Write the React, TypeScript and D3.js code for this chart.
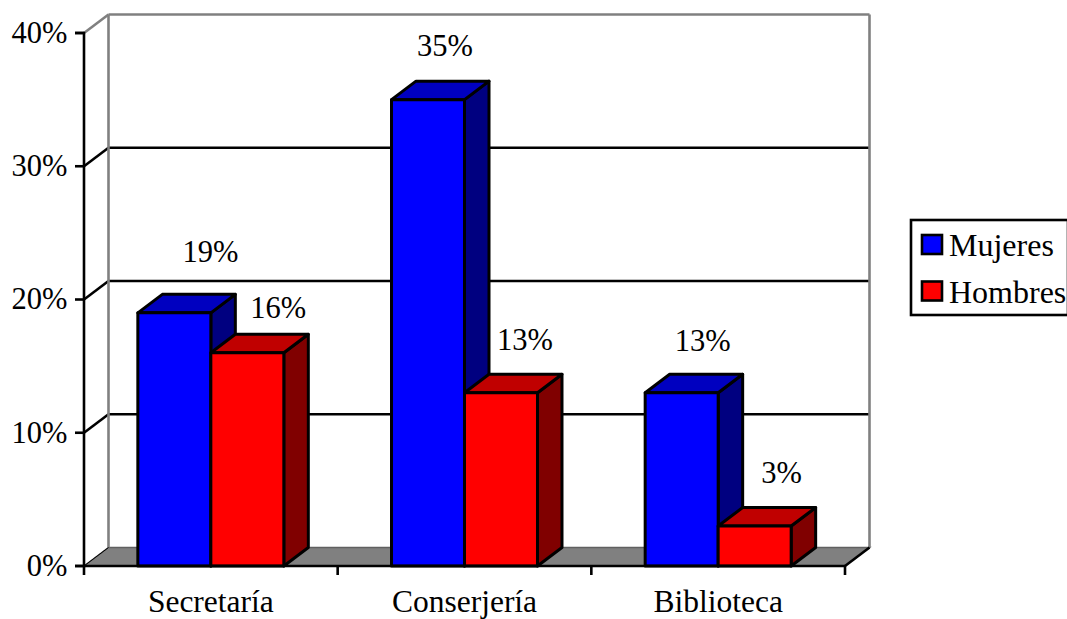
import { useEffect, useRef } from 'react';
import * as d3 from 'd3';

const categories = ['Secretaría', 'Conserjería', 'Biblioteca'];
const seriesNames = ['Mujeres', 'Hombres'];
const mujeres = [19, 35, 13];
const hombres = [16, 13, 3];
const yTicks = [0, 10, 20, 30, 40];

// hand placed data labels in the original, offset from the centre of the bar top
const labelNudge = [
    [[36, -51], [31, -35]],
    [[17, -44], [24, -43]],
    [[21, -42], [27, -43]],
];

const faces: Record<string, { front: string; top: string; side: string }> = {
    Mujeres: { front: '#0000ff', top: '#0000c0', side: '#000080' },
    Hombres: { front: '#ff0000', top: '#c00000', side: '#800000' },
};

export default function App() {
    const svgRef = useRef<SVGSVGElement>(null);

    useEffect(() => {
        if (!svgRef.current) return;
        const svg = d3.select(svgRef.current);
        svg.selectAll('*').remove();

        const font = '"Liberation Serif", serif';
        const fontSize = 30.5;
        const left = 84, right = 845, bottom = 566, top = 33;
        const dx = 24.5, dy = -18.5; // 3d depth
        const lw = 2.6;

        const y = d3.scaleLinear().domain([0, 40]).range([bottom, top]);
        const x0 = d3.scaleBand().domain(categories).range([left, right]).paddingInner(0.4245).paddingOuter(0.21225);
        const x1 = d3.scaleBand().domain(seriesNames).range([0, x0.bandwidth()]);

        const line = (x1_: number, y1: number, x2: number, y2: number, stroke: string) =>
            svg.append('line')
                .attr('x1', x1_).attr('y1', y1).attr('x2', x2).attr('y2', y2)
                .attr('stroke', stroke).attr('stroke-width', lw);

        // Floor
        svg.append('polygon')
            .attr('points', [[left, bottom], [left + dx, bottom + dy], [right + dx, bottom + dy], [right, bottom]].join(' '))
            .attr('fill', '#808080').attr('stroke', '#606060').attr('stroke-width', 1.5);

        // Gridlines on the back wall and the side wall
        for (const t of yTicks.slice(1)) {
            const c = t === 40 ? '#808080' : '#000';
            line(left, y(t), left + dx, y(t) + dy, c);
            line(left + dx, y(t) + dy, right + dx, y(t) + dy, c);
        }
        line(left + dx, y(40) + dy, left + dx, y(0) + dy, '#808080');
        line(right + dx, y(40) + dy, right + dx, y(0) + dy, '#808080');
        line(left, y(0), left + dx, y(0) + dy, '#000').attr('stroke-width', 1);
        line(right, y(0), right + dx, y(0) + dy, '#000');

        // Bars
        categories.forEach((cat, ci) => {
            const vals = [mujeres[ci], hombres[ci]];
            seriesNames.forEach((name, si) => {
                const bx = x0(cat)! + x1(name)!;
                const w = x1.bandwidth();
                const ty = y(vals[si]);
                const g = svg.append('g').attr('stroke', '#000').attr('stroke-width', 3).attr('stroke-linejoin', 'round');
                g.append('polygon')
                    .attr('points', [[bx + w, ty], [bx + w + dx, ty + dy], [bx + w + dx, bottom + dy], [bx + w, bottom]].join(' '))
                    .attr('fill', faces[name].side);
                g.append('polygon')
                    .attr('points', [[bx, ty], [bx + dx, ty + dy], [bx + w + dx, ty + dy], [bx + w, ty]].join(' '))
                    .attr('fill', faces[name].top);
                g.append('rect')
                    .attr('x', bx).attr('y', ty).attr('width', w).attr('height', bottom - ty)
                    .attr('fill', faces[name].front);
            });
        });

        // Y axis
        const yAxis = svg.append('g').attr('transform', `translate(${left},0)`)
            .call(d3.axisLeft(y).tickValues(yTicks).tickFormat(d => `${d}%`).tickSize(9).tickPadding(7.5).offset(0));
        yAxis.select('.domain').attr('stroke', '#000').attr('stroke-width', lw);
        yAxis.selectAll('.tick line').attr('stroke', '#000').attr('stroke-width', lw);
        yAxis.selectAll('.tick text').attr('font-family', font).attr('font-size', fontSize).attr('fill', '#000');

        // X axis, labels come from the band scale, ticks sit between the bands
        const xAxis = svg.append('g').attr('transform', `translate(0,${bottom})`)
            .call(d3.axisBottom(x0).tickSize(0).tickPadding(24).offset(0));
        xAxis.select('.domain').attr('stroke', '#000').attr('stroke-width', lw);
        xAxis.selectAll('.tick text').attr('font-family', font).attr('font-size', 31.5).attr('fill', '#000');
        const step = x0.step();
        d3.range(categories.length + 1).forEach(i => {
            line(left + step * i, bottom, left + step * i, bottom + 9, '#000');
        });

        // Data labels
        categories.forEach((cat, ci) => {
            const vals = [mujeres[ci], hombres[ci]];
            seriesNames.forEach((name, si) => {
                svg.append('text')
                    .attr('x', x0(cat)! + x1(name)! + x1.bandwidth() / 2 + labelNudge[ci][si][0])
                    .attr('y', y(vals[si]) + labelNudge[ci][si][1])
                    .attr('text-anchor', 'middle')
                    .attr('font-family', font).attr('font-size', fontSize).attr('fill', '#000')
                    .text(`${vals[si]}%`);
            });
        });

        // Legend
        const leg = svg.append('g');
        leg.append('rect')
            .attr('x', 911).attr('y', 220).attr('width', 157).attr('height', 95)
            .attr('fill', '#fff').attr('stroke', '#000').attr('stroke-width', lw);
        seriesNames.forEach((name, i) => {
            const ly = 245 + i * 46.5;
            leg.append('rect')
                .attr('x', 922).attr('y', ly - 10).attr('width', 20).attr('height', 19)
                .attr('fill', faces[name].front).attr('stroke', '#000').attr('stroke-width', lw);
            leg.append('text')
                .attr('x', 949).attr('y', ly + 11)
                .attr('font-family', font).attr('font-size', 32).attr('fill', '#000')
                .text(name);
        });
    }, []);

    return <svg ref={svgRef} width={1067} height={619} style={{ position: 'absolute', left: 0, top: 0, background: '#fff' }} />;
}
